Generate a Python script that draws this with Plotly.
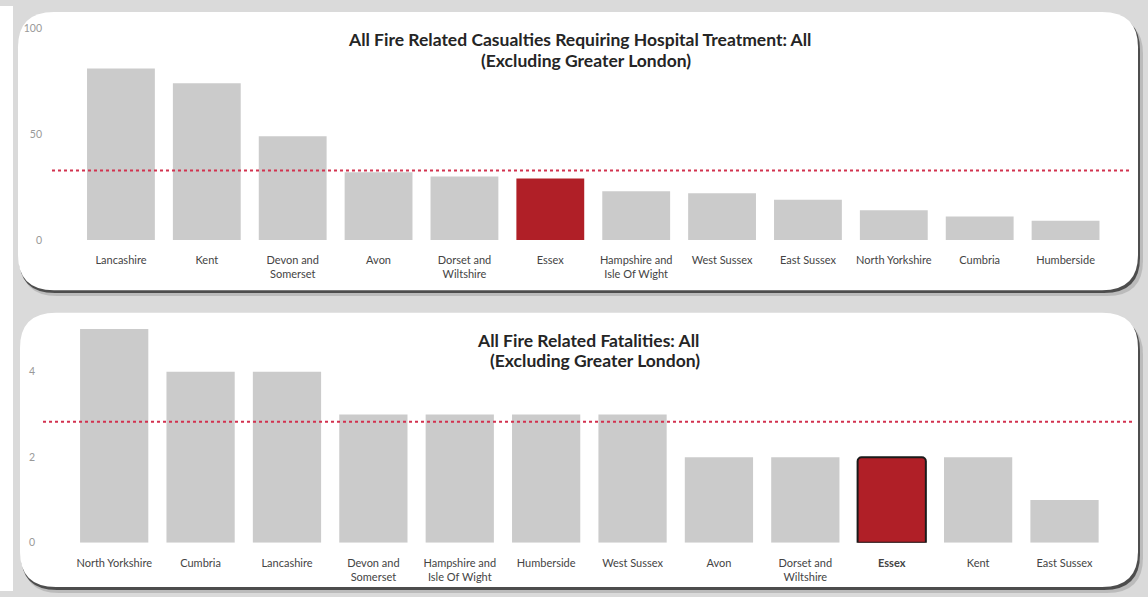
import plotly.graph_objects as go

W, H = 1148, 597

# ---------------- data ----------------
highlight = "Essex"

top_title_line1 = "All Fire Related Casualties Requiring Hospital Treatment: All"
top_title_line2 = "(Excluding Greater London)"
top_categories = ["Lancashire", "Kent", "Devon and Somerset", "Avon", "Dorset and Wiltshire", "Essex",
                  "Hampshire and Isle Of Wight", "West Sussex", "East Sussex", "North Yorkshire",
                  "Cumbria", "Humberside"]
top_values = [81, 74, 49, 32, 30, 29, 23, 22, 19, 14, 11, 9]
top_ticklabels = ["Lancashire", "Kent", "Devon and<br>Somerset", "Avon", "Dorset and<br>Wiltshire", "Essex",
                  "Hampshire and<br>Isle Of Wight", "West Sussex", "East Sussex", "North Yorkshire",
                  "Cumbria", "Humberside"]
top_yticks = [0, 50, 100]

bottom_title_line1 = "All Fire Related Fatalities: All"
bottom_title_line2 = "(Excluding Greater London)"
bottom_categories = ["North Yorkshire", "Cumbria", "Lancashire", "Devon and Somerset",
                     "Hampshire and Isle Of Wight", "Humberside", "West Sussex", "Avon",
                     "Dorset and Wiltshire", "Essex", "Kent", "East Sussex"]
bottom_values = [5, 4, 4, 3, 3, 3, 3, 2, 2, 2, 2, 1]
bottom_ticklabels = ["North Yorkshire", "Cumbria", "Lancashire", "Devon and<br>Somerset",
                     "Hampshire and<br>Isle Of Wight", "Humberside", "West Sussex", "Avon",
                     "Dorset and<br>Wiltshire", "<b>Essex</b>", "Kent", "East Sussex"]
bottom_yticks = [0, 2, 4]

# ---------------- style ----------------
GRAY_BAR = "#cbcbcb"
RED_BAR = "#b01f27"
AVG_LINE = "#d2324f"
FONT = "Lato"


def px(x):
    return x / W


def py(y):
    return 1 - y / H


def rrect(x0, y0, x1, y1, r):
    def P(x, y):
        return f"{px(x):.5f},{py(y):.5f}"
    return (f"M {P(x0 + r, y0)} L {P(x1 - r, y0)} Q {P(x1, y0)} {P(x1, y0 + r)} "
            f"L {P(x1, y1 - r)} Q {P(x1, y1)} {P(x1 - r, y1)} "
            f"L {P(x0 + r, y1)} Q {P(x0, y1)} {P(x0, y1 - r)} "
            f"L {P(x0, y0 + r)} Q {P(x0, y0)} {P(x0 + r, y0)} Z")


fig = go.Figure()


def add_chart(cats, vals, xa, ya, outline):
    others_x = [c for c in cats if c != highlight]
    others_y = [v for c, v in zip(cats, vals) if c != highlight]
    hl_x = [c for c in cats if c == highlight]
    hl_y = [v for c, v in zip(cats, vals) if c == highlight]
    fig.add_trace(go.Bar(x=others_x, y=others_y, xaxis=xa, yaxis=ya,
                         marker=dict(color=GRAY_BAR, line=dict(width=0)),
                         showlegend=False, hoverinfo="x+y"))
    if outline:
        fig.add_trace(go.Bar(x=hl_x, y=hl_y, xaxis=xa, yaxis=ya,
                             marker=dict(color=RED_BAR, line=dict(width=2, color="#1a1a1a"),
                                         cornerradius=4),
                             showlegend=False, hoverinfo="x+y"))
    else:
        fig.add_trace(go.Bar(x=hl_x, y=hl_y, xaxis=xa, yaxis=ya,
                             marker=dict(color=RED_BAR, line=dict(width=0)),
                             showlegend=False, hoverinfo="x+y"))


add_chart(top_categories, top_values, "x", "y", False)
add_chart(bottom_categories, bottom_values, "x2", "y2", True)

shapes = []
# white strip on the left edge
shapes.append(dict(type="rect", xref="paper", yref="paper", x0=0, x1=px(13), y0=0, y1=1,
                   fillcolor="white", line=dict(width=0), layer="below"))
# cards with shadows
for (x0, y0, x1, y1) in [(18, 6, 1138, 290), (20, 313, 1138, 593)]:
    shapes.append(dict(type="path", xref="paper", yref="paper", path=rrect(x0 + 3, y0 + 7, x1 + 5, y1 + 6, 36),
                       fillcolor="rgba(130,130,130,0.35)", line=dict(width=0), layer="below"))
    shapes.append(dict(type="path", xref="paper", yref="paper", path=rrect(x0 + 1, y0 + 3, x1 + 2, y1 + 3, 36),
                       fillcolor="rgba(50,50,50,0.8)", line=dict(width=0), layer="below"))
    shapes.append(dict(type="path", xref="paper", yref="paper", path=rrect(x0, y0, x1, y1, 36),
                       fillcolor="white", line=dict(width=0), layer="below"))

# average lines
top_avg = sum(top_values) / len(top_values)
bottom_avg = sum(bottom_values) / len(bottom_values)
shapes.append(dict(type="line", xref="paper", yref="y", x0=px(52), x1=px(1132), y0=top_avg, y1=top_avg,
                   line=dict(color=AVG_LINE, width=2, dash="dot"), layer="above"))
shapes.append(dict(type="line", xref="paper", yref="y2", x0=px(43), x1=px(1132), y0=bottom_avg, y1=bottom_avg,
                   line=dict(color=AVG_LINE, width=2, dash="dot"), layer="above"))

annotations = []
for text, cx, cy in [(top_title_line1, 579, 34), (top_title_line2, 586, 56),
                     (bottom_title_line1, 588, 341), (bottom_title_line2, 595, 362)]:
    annotations.append(dict(text=f"<b>{text}</b>", xref="paper", yref="paper", x=px(cx), y=py(cy),
                            xanchor="center", yanchor="middle", showarrow=False,
                            font=dict(family=FONT, size=17.5, color="#252525")))

xaxis_common = dict(type="category", showgrid=False, zeroline=False, showline=False, ticks="",
                    tickfont=dict(family=FONT, size=11, color="#444444"), ticklabelstandoff=12,
                    categoryorder="array")
yaxis_common = dict(showgrid=False, zeroline=False, showline=False, ticks="",
                    tickfont=dict(family=FONT, size=10.5, color="#999999"))

fig.update_layout(
    width=W, height=H,
    margin=dict(l=0, r=0, t=0, b=0),
    paper_bgcolor="#dadada",
    plot_bgcolor="rgba(0,0,0,0)",
    barmode="overlay",
    bargap=0.21,
    shapes=shapes,
    annotations=annotations,
    xaxis=dict(domain=[px(78), px(1108.5)], anchor="y", categoryarray=top_categories,
               tickvals=top_categories, ticktext=top_ticklabels, **xaxis_common),
    yaxis=dict(domain=[py(238.7), py(22.7)], anchor="x", range=[0, 100], tickvals=top_yticks,
               ticklabelstandoff=35, **yaxis_common),
    xaxis2=dict(domain=[px(71), px(1107.7)], anchor="y2", categoryarray=bottom_categories,
                tickvals=bottom_categories, ticktext=bottom_ticklabels, **xaxis_common),
    yaxis2=dict(domain=[py(547.7), py(329.7)], anchor="x2", range=[0, 5], tickvals=bottom_yticks,
                ticklabelstandoff=35, **yaxis_common),
)

fig.write_html("out.html", config={"displayModeBar": False},
               post_script="document.body.style.margin='0';document.body.style.padding='0';"
                           "document.body.style.overflow='hidden';")
